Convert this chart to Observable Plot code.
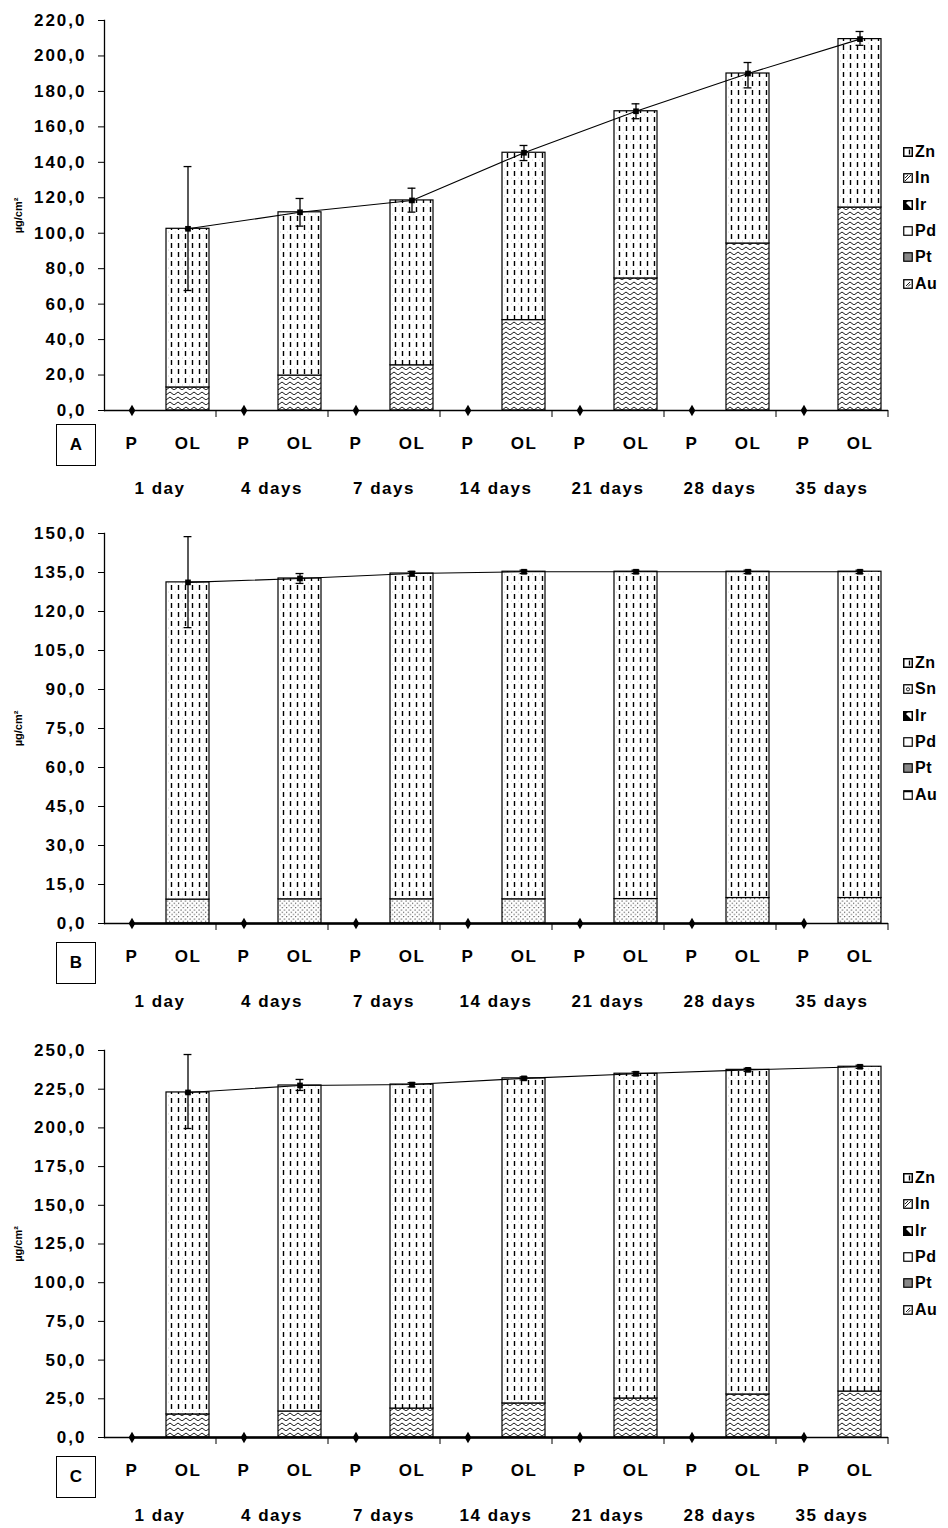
<!DOCTYPE html>
<html><head><meta charset="utf-8">
<script src="https://cdn.jsdelivr.net/npm/d3@7"></script>
<script src="https://cdn.jsdelivr.net/npm/@observablehq/plot@0.6"></script>
<style>
body{margin:0;background:#fff;font-family:"Liberation Sans",Arial,sans-serif;}
.panel{position:relative;width:948px;}
.box{position:absolute;left:56px;width:40px;height:42px;border:1.3px solid #000;font-weight:bold;font-size:17px;display:flex;align-items:center;justify-content:center;box-sizing:border-box;}
.legend{position:absolute;left:903px;font-weight:bold;font-size:16px;letter-spacing:0.5px;}
.legend div{height:26.3px;display:flex;align-items:center;}
.legend svg{margin-right:2px;}
g[aria-label="y-axis tick label"] text{letter-spacing:2px;}
g.catlab text{letter-spacing:1.5px;}
</style></head><body>
<svg width="0" height="0" style="position:absolute">
<defs>
<pattern id="zn" patternUnits="userSpaceOnUse" width="7" height="9">
<rect width="7" height="9" fill="#fff"/>
<line x1="3.5" y1="0" x2="3.5" y2="5" stroke="#000" stroke-width="1.4"/>
<circle cx="0.5" cy="7" r="0.4" fill="#999"/>
</pattern>
<pattern id="wave" patternUnits="userSpaceOnUse" width="8" height="5">
<rect width="8" height="5" fill="#fff"/>
<path d="M0,3.5 Q2,0.5 4,3.5 T8,3.5" fill="none" stroke="#000" stroke-width="0.9"/>
</pattern>
<pattern id="dots" patternUnits="userSpaceOnUse" width="4.5" height="4.5">
<rect width="4.5" height="4.5" fill="#fff"/>
<circle cx="1" cy="1" r="0.6" fill="#000"/>
<circle cx="3.25" cy="3.25" r="0.6" fill="#000"/>
</pattern>
</defs>
</svg>
<div id="chart"></div>
<script>
const days = ["1 day","4 days","7 days","14 days","21 days","28 days","35 days"];
const groups = ["P","OL"];

// Panel A
const totalA = [102.5, 111.8, 118.5, 145.4, 168.8, 190.1, 209.5];
const bottomA = [13.0, 19.7, 25.5, 51.0, 74.5, 94.2, 114.5];
const lowA = [67.7, 104.0, 111.9, 141.0, 164.6, 182.0, 206.0];
const highA = [137.6, 119.6, 125.4, 149.5, 173.0, 196.3, 213.8];
const legendA = ["Zn","In","Ir","Pd","Pt","Au"];

// Panel B
const totalB = [131.2, 132.7, 134.6, 135.3, 135.3, 135.3, 135.3];
const bottomB = [9.2, 9.3, 9.3, 9.3, 9.4, 9.8, 9.8];
const lowB = [113.8, 130.8, 133.6, 134.6, 134.6, 134.6, 134.6];
const highB = [148.8, 134.6, 135.4, 135.9, 135.9, 135.9, 135.9];
const legendB = ["Zn","Sn","Ir","Pd","Pt","Au"];

// Panel C
const totalC = [222.9, 227.4, 228.0, 232.0, 235.0, 237.5, 239.5];
const bottomC = [14.9, 16.8, 18.7, 22.0, 25.2, 27.8, 29.7];
const lowC = [199.6, 224.2, 226.5, 231.0, 233.8, 236.5, 238.5];
const highC = [247.4, 231.3, 229.2, 233.0, 236.2, 238.5, 240.5];
const legendC = ["Zn","In","Ir","Pd","Pt","Au"];

const patterns = {Zn: "url(#zn)", Au: "url(#wave)", Sn: "url(#dots)"};

const panels = [
  {letter:"A", total:totalA, bottom:bottomA, bottomMetal:"Au", low:lowA, high:highA, legend:legendA, yMax:220, step:20, mt:20, ph:390, height:513, zeroLine:false, boxTop:424, legendTop:139},
  {letter:"B", total:totalB, bottom:bottomB, bottomMetal:"Sn", low:lowB, high:highB, legend:legendB, yMax:150, step:15, mt:20, ph:390, height:513, zeroLine:true, boxTop:429, legendTop:137},
  {letter:"C", total:totalC, bottom:bottomC, bottomMetal:"Au", low:lowC, high:highC, legend:legendC, yMax:250, step:25, mt:24, ph:387, height:502, zeroLine:true, boxTop:430, legendTop:139}
];

const cats = days.flatMap(d => groups.map(g => g + "|" + d));
const W = 948, ML = 104, MR = 60;
const step = (W - ML - MR) / cats.length;
const fmt = d => d3.format(".1f")(d).replace(".", ",");

function swatch(name, letter) {
  const ns = "http://www.w3.org/2000/svg";
  const s = document.createElementNS(ns, "svg");
  s.setAttribute("width", 10); s.setAttribute("height", 10);
  let inner = "";
  if (name === "Pt") inner = `<rect x="0.75" y="0.75" width="8.5" height="8.5" fill="#888" stroke="#000" stroke-width="1.2"/>`;
  else if (name === "Ir") inner = `<rect x="0.75" y="0.75" width="8.5" height="8.5" fill="#fff" stroke="#000" stroke-width="1.5"/><path d="M1,1 L9,9 L1,9 Z" fill="#000"/><path d="M1,1 L5,1 L1,5Z" fill="#000"/>`;
  else if (name === "In") inner = `<rect x="0.75" y="0.75" width="8.5" height="8.5" fill="#fff" stroke="#000" stroke-width="1.3"/><path d="M2,8 L8,2 M2,5 L5,2" stroke="#000" stroke-width="0.9"/>`;
  else if (name === "Sn") inner = `<rect x="0.75" y="0.75" width="8.5" height="8.5" fill="#fff" stroke="#000" stroke-width="1.3"/><circle cx="5" cy="5.3" r="1.6" fill="none" stroke="#000" stroke-width="0.9"/>`;
  else if (name === "Zn") inner = `<rect x="0.75" y="0.75" width="8.5" height="8.5" fill="#fff" stroke="#000" stroke-width="1.5"/><path d="M6.5,2.5 L6.5,7.5" stroke="#000" stroke-width="1.4"/>`;
  else if (name === "Au") inner = letter === "B"
    ? `<rect x="0.75" y="0.75" width="8.5" height="8.5" fill="#fff" stroke="#000" stroke-width="1.2"/><path d="M1,1.5 L9,1.5" stroke="#000" stroke-width="1.5"/>`
    : `<rect x="0.75" y="0.75" width="8.5" height="8.5" fill="#fff" stroke="#000" stroke-width="1.3"/><path d="M3,7 L7,3 M5,7.5 L7.5,5" stroke="#000" stroke-width="0.9"/>`;
  else inner = `<rect x="0.75" y="0.75" width="8.5" height="8.5" fill="#fff" stroke="#000" stroke-width="1.2"/>`;
  s.innerHTML = inner;
  return s;
}

const root = document.getElementById("chart");
for (const p of panels) {
  const bars = days.flatMap((d, i) => [
    {cat: "OL|" + d, metal: p.bottomMetal, value: p.bottom[i]},
    {cat: "OL|" + d, metal: "Zn", value: p.total[i] - p.bottom[i]}
  ]);
  const pts = days.map((d, i) => ({cat: "OL|" + d, v: p.total[i], lo: p.low[i], hi: p.high[i]}));
  const pZero = days.map(d => ({cat: "P|" + d, v: 0}));
  const ticks = d3.range(0, p.yMax + p.step / 2, p.step);

  const marks = [
    Plot.barY(bars, Plot.stackY({x: "cat", y: "value", fill: "metal", stroke: "#000", strokeWidth: 1.2})),
    Plot.ruleY([0], {stroke: "#000", strokeWidth: 1.3}),
    Plot.frame({anchor: "left", stroke: "#000", strokeWidth: 1.3}),
    Plot.axisY({ticks, tickFormat: fmt, tickSize: 6, tickPadding: 12, fontSize: 17, fontWeight: "bold", label: null}),
    Plot.axisX(days.map(d => "OL|" + d), {tickSize: 7, tickFormat: () => "", dx: step / 2, stroke: "#000", label: null}),
    Plot.text(["µg/cm²"], {frameAnchor: "left", rotate: -90, dx: -86, textAnchor: "middle", fontSize: 11, fontWeight: "bold"}),
    Plot.text(cats, {x: d => d, text: d => d.split("|")[0], frameAnchor: "bottom", dy: 38, fontSize: 17, fontWeight: "bold", className: "catlab"}),
    Plot.text(days, {x: d => "P|" + d, text: d => d, frameAnchor: "bottom", dy: 83, dx: step / 2, fontSize: 17, fontWeight: "bold", className: "catlab"}),
  ];
  if (p.zeroLine) marks.push(Plot.line(pZero, {x: "cat", y: "v", stroke: "#000", strokeWidth: 2.6}));
  marks.push(
    Plot.line(pts, {x: "cat", y: "v", stroke: "#000", strokeWidth: 1.1}),
    Plot.ruleX(pts, {x: "cat", y1: "lo", y2: "hi", stroke: "#000", strokeWidth: 1.3}),
    Plot.tickY(pts, {x: "cat", y: "hi", stroke: "#000", strokeWidth: 1.3, inset: (step * 0.77 - 8) / 2}),
    Plot.tickY(pts, {x: "cat", y: "lo", stroke: "#000", strokeWidth: 1.3, inset: (step * 0.77 - 8) / 2}),
    Plot.dot(pts, {x: "cat", y: "v", symbol: "square", r: 3.2, fill: "#000"}),
    Plot.dot(pZero, {x: "cat", y: "v", symbol: "diamond", r: 3.5, fill: "#000"})
  );

  const chart = Plot.plot({
    width: W,
    height: p.height,
    marginLeft: ML,
    marginRight: MR,
    marginTop: p.mt,
    marginBottom: p.height - p.mt - p.ph,
    style: {fontFamily: "'Liberation Sans', Arial, sans-serif", color: "#000", background: "#fff"},
    x: {domain: cats, paddingInner: 0.23, paddingOuter: 0.115, label: null},
    y: {domain: [0, p.yMax], label: null},
    color: {domain: [p.bottomMetal, "Zn"], range: [patterns[p.bottomMetal], patterns.Zn]},
    marks
  });

  const div = document.createElement("div");
  div.className = "panel";
  div.style.height = p.height + "px";
  div.appendChild(chart);
  const box = document.createElement("div");
  box.className = "box";
  box.style.top = p.boxTop + "px";
  box.textContent = p.letter;
  div.appendChild(box);
  const leg = document.createElement("div");
  leg.className = "legend";
  leg.style.top = p.legendTop + "px";
  for (const m of p.legend) {
    const row = document.createElement("div");
    row.appendChild(swatch(m, p.letter));
    const t = document.createElement("span");
    t.textContent = m;
    row.appendChild(t);
    leg.appendChild(row);
  }
  div.appendChild(leg);
  root.appendChild(div);
}
</script>
</body></html>
